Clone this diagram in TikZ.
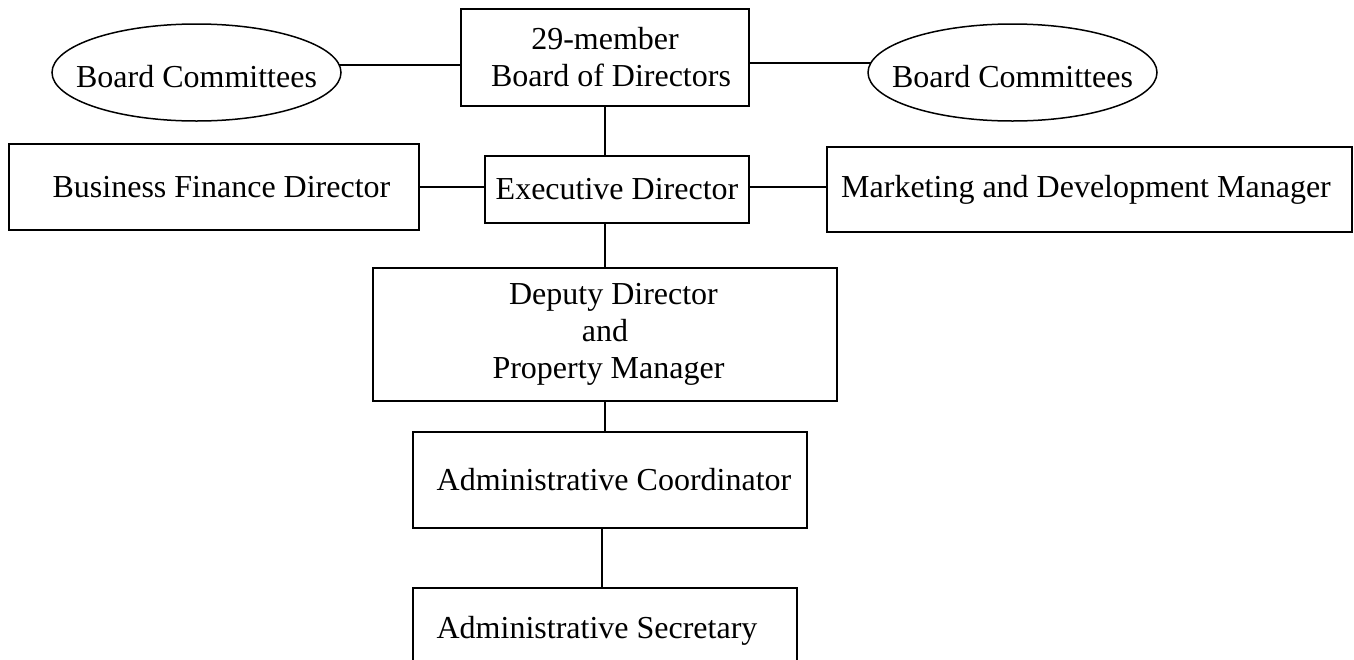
\documentclass[tikz,border=0pt]{standalone}
\usepackage{fontspec}
\setmainfont{Liberation Serif}
\usetikzlibrary{shapes.geometric}
\begin{document}
\begin{tikzpicture}[x=1pt,y=1pt,
  every node/.style={font=\fontsize{32}{37}\selectfont, inner sep=0pt, outer sep=0pt, line width=1.5pt},
  orgbox/.style={draw, rectangle, align=center},
  orgoval/.style={draw, ellipse, text height=29.6pt, text depth=0pt},
  link/.style={draw, line width=2pt}]
\useasboundingbox (0,0) rectangle (1354,-659);
\begin{scope}
\clip (0,0) rectangle (1354,-659);
\node[orgbox, minimum width=288pt, minimum height=97pt] (bd) at (605,-57.5)
  {29-member\\\hspace*{12pt}Board of Directors};
\node[orgoval, minimum width=289pt, minimum height=97pt] (bcl) at (196.5,-72.5)
  {\makebox[0pt][c]{Board Committees}};
\node[orgoval, minimum width=289pt, minimum height=97pt] (bcr) at (1012.5,-72.5)
  {\makebox[0pt][c]{Board Committees}};
\node[orgbox, minimum width=410pt, minimum height=86pt] (bfd) at (214,-187)
  {\hspace*{15pt}Business Finance Director};
\node[orgbox, minimum width=264pt, minimum height=67pt] (exec) at (617,-189.5)
  {Executive Director};
\node[orgbox, minimum width=525pt, minimum height=85pt] (mkt) at (1089.5,-189.5)
  {Marketing and Development Manager\hspace*{7pt}};
\node[orgbox, minimum width=464pt, minimum height=133pt] (dep) at (605,-334.5)
  {\hspace*{17pt}Deputy Director\\and\hspace*{17pt}\\\hspace*{7pt}Property Manager};
\node[orgbox, minimum width=394pt, minimum height=96pt] (ac) at (610,-480)
  {\hspace*{8pt}Administrative Coordinator};
\node[orgbox, minimum width=384pt, minimum height=85pt] (sec) at (605,-630.5)
  {Administrative Secretary\hspace*{16pt}};
\end{scope}
\path[link] (bcl.3.4) -- (bcl.3.4 -| bd.west);
\path[link] (bcr.176.6) -- (bcr.176.6 -| bd.east);
\path[link] (bd.south) -- (bd.south |- exec.north);
\path[link] (bfd.east) -- (bfd.east -| exec.west);
\path[link] (bfd.east -| exec.east) -- (bfd.east -| mkt.west);
\path[link] (dep.north) -- (dep.north |- exec.south);
\path[link] (dep.south) -- (dep.south |- ac.north);
\path[link] ([xshift=-3pt]sec.north) -- ([xshift=-3pt]sec.north |- ac.south);
\end{tikzpicture}
\end{document}
